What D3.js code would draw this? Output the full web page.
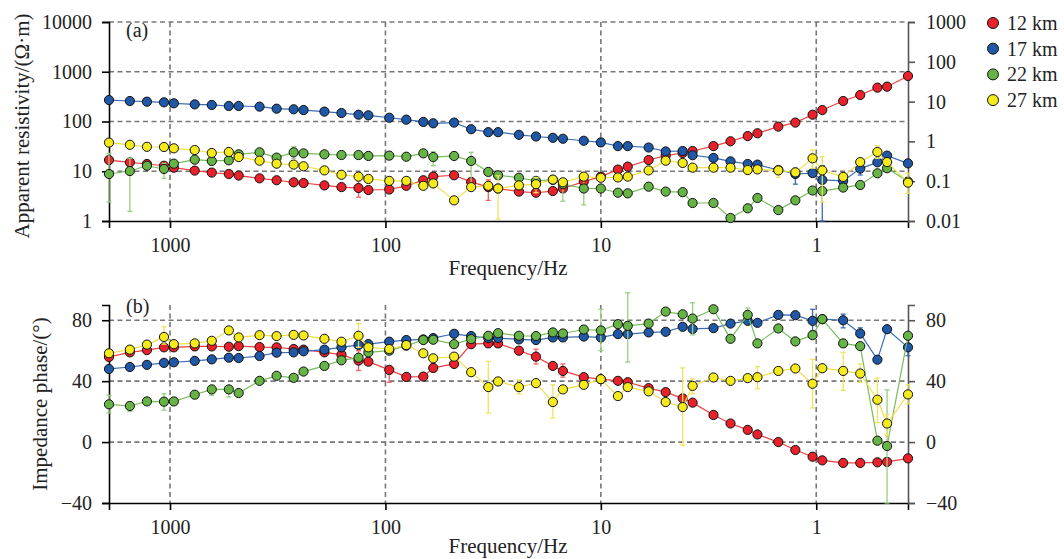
<!DOCTYPE html>
<html>
<head>
<meta charset="utf-8">
<script src="https://cdn.jsdelivr.net/npm/d3@7"></script>
<style>
  body { margin: 0; background: #fff; }
  svg { display: block; font-family: "Liberation Serif", "Times New Roman", serif; }
</style>
</head>
<body>
<svg id="chart"></svg>
<script>
// sounding frequencies (Hz), high to low
const freq = [1920, 1536, 1280, 1066.7, 960, 768, 640, 533.3, 480, 384, 320, 266.7, 240, 192, 160, 133.3,
  120, 96, 80, 66.7, 60, 48, 40, 33.3, 30, 24, 20, 16.7, 15, 12,
  10, 8.33, 7.5, 6, 5, 4.17, 3.75, 3, 2.5, 2.08,
  1.875, 1.5, 1.25, 1.04, 0.9375, 0.75, 0.625, 0.52, 0.469, 0.375];

const names = ["12 km", "17 km", "22 km", "27 km"];

// apparent resistivity (ohm·m)
const rho12 = [16.8, 15.1, 14, 12.9, 11.8, 10.3, 9.4, 8.8, 8.2, 7.2, 6.6, 6.0, 5.8, 5.2, 4.8, 4.6,
  4.2, 4.3, 5.1, 6.6, 7.8, 8.3, 6.1, 4.8, 4.5, 3.9, 3.7, 4.0, 4.5, 6.2,
  7.8, 10.8, 12.4, 16.8, 20.6, 23.3, 25.5, 32, 40, 51,
  58, 79, 95, 137, 170, 258, 341, 479, 501, 822];
const rho17 = [270, 258, 250, 243, 232, 221, 215, 205, 205, 199, 181, 176, 170, 158, 148, 137,
  133, 119, 109, 98, 92, 95, 70, 61, 61, 54, 50, 47, 45, 41,
  38, 32, 32, 30, 25, 25.5, 21, 18.5, 15.8, 14,
  13.6, 10.6, 8.8, 9.2, 6.7, 6.4, 11.3, 15.1, 20.6, 14.4];
const rho22 = [8.8, 10.1, 12.9, 11.1, 14.2, 17.1, 16.1, 16.6, 21.9, 24, 18.8, 24, 22.9, 21.9, 21.2, 21.2,
  20.3, 20.6, 19.6, 22.9, 19.3, 20.3, 16.1, 9.7, 8.3, 7.4, 6.4, 6.7, 5.5, 4.5,
  4.5, 3.7, 3.6, 4.9, 3.9, 3.8, 2.3, 2.3, 1.15, 1.8,
  2.9, 1.66, 2.6, 4.1, 4.0, 4.7, 5.3, 9.1, 11.5, 6.2];
const rho27 = [37.6, 34, 31, 30.7, 28.9, 26.7, 23.3, 24.4, 19.3, 16.3, 14.2, 13.6, 12.6, 10.4, 8.5, 7.8,
  7.0, 6.4, 6.4, 5.1, 5.7, 2.6, 4.8, 5.1, 4.5, 5.2, 5.5, 6.8, 6.0, 7.8,
  7.4, 7.5, 7.8, 10.4, 16.3, 14.7, 11.8, 11.8, 11.8, 10.6,
  10.9, 10.4, 9.5, 18.2, 10.4, 7.7, 15.3, 24.4, 15.3, 5.9];

// impedance phase (degrees)
const ph12 = [55.9, 58.9, 60.4, 62.2, 62.2, 62.8, 62.8, 62.6, 63, 62.4, 62.2, 61.1, 60.7, 58.9, 57.4, 53.5,
  52.8, 47.4, 42.8, 43, 48.7, 51.3, 64.3, 64.8, 64.8, 60, 56.1, 50, 46.7, 42.6,
  41.3, 40.2, 39.3, 35.4, 32.8, 28.7, 25.9, 17.8, 12.2, 8,
  5, 0, -5.2, -9.6, -12, -13.7, -13.7, -13.3, -13, -10.7];
const ph17 = [48, 49.3, 50.7, 52, 52.4, 53.3, 54.3, 55.4, 55.2, 56.5, 58.7, 58.9, 59.6, 60.7, 62.2, 63.8,
  64.3, 65.9, 67, 67.4, 68.3, 71.1, 69.6, 68.3, 68.3, 67.4, 67, 68.7, 68.7, 69.3,
  68.7, 70.9, 70.9, 72, 72.4, 75.7, 74.3, 74.8, 77.8, 79.6,
  78.3, 83.5, 83.3, 79.6, 80.7, 80, 71.3, 54.1, 74.1, 62.2];
const ph22 = [24.8, 23.7, 26.7, 26.5, 26.7, 31.1, 34.6, 34.6, 32.2, 40.2, 43.5, 42.2, 46.3, 50, 53.7, 55.4,
  58.9, 60, 63.3, 67, 67.2, 64.3, 67.6, 69.8, 71.5, 69.8, 69.6, 72, 71.3, 73.9,
  73.3, 77.4, 76.3, 77.8, 85.7, 83.9, 81.1, 87.2, 67.8, 83.5,
  64.8, 74.6, 66.1, 70.2, 80.7, 64.8, 63, 0.9, -2.6, 69.8];
const ph27 = [58.3, 60.7, 64, 69, 64.3, 64.8, 66.5, 73.3, 68.7, 70.2, 69.6, 70.4, 70, 67.8, 65.9, 69.8,
  62.2, 61.1, 63.7, 58.3, 55, 56.1, 45.9, 36.1, 39.8, 36.1, 38.7, 26.3, 34.6, 37.6,
  41.3, 30.2, 36.1, 33.3, 26.3, 23, 36.9, 42.4, 40.2, 42,
  42.6, 46.7, 48.3, 38.3, 48.5, 46.7, 45, 27.8, 12.2, 31.3];

// error bars: [frequency index, low, high]
const rhoErr12 = [[15, 3.0, 6.5], [23, 2.6, 6.7]];
const rhoErr17 = [[42, 5.5, 11.5], [44, 1, 13], [46, 8.4, 13.4]];
const rhoErr22 = [[0, 2.4, 22.9], [1, 1.56, 18.2], [3, 7.2, 14.4], [9, 20, 27], [11, 18.2, 31.2],
  [20, 12.9, 24.8], [22, 4.9, 24], [28, 2.5, 5.9], [29, 2.1, 9.1]];
const rhoErr27 = [[24, 1.1, 8.1], [26, 3.7, 7.5], [39, 8.5, 13], [41, 7.5, 12.5], [43, 11.5, 26.7],
  [44, 2.4, 19.6], [47, 18.2, 32.7], [49, 3.6, 9.1]];
const phErr12 = [[15, 47, 60], [17, 39.3, 48], [20, 46, 51], [24, 62.2, 66.5], [26, 51.3, 61], [28, 42.6, 51.3]];
const phErr17 = [[43, 73, 87.2], [45, 75, 84], [46, 68.7, 75], [49, 56.7, 63]];
const phErr22 = [[0, 19.1, 30.7], [1, 20.2, 26.3], [3, 20.9, 31.7], [6, 30.7, 36.5], [7, 29.6, 36.5],
  [30, 60, 87.2], [32, 52.6, 98], [36, 70.4, 91.5], [39, 82, 88], [48, -40, 34.3]];
const phErr27 = [[3, 64.3, 75.7], [15, 62.2, 77.8], [23, 19.1, 53], [25, 31.7, 40.9], [27, 15.9, 37.6],
  [35, -2, 48.7], [36, 31.7, 41.5], [40, 35, 49.6], [43, 22.4, 54.3], [45, 33.9, 58.9],
  [46, 39.3, 51.3], [47, 12.8, 42], [48, 4.6, 18], [49, 25.2, 37.6]];

const xTicks = [1000, 100, 10, 1];
const rhoTicks = [1, 10, 100, 1000, 10000];
const rho2Ticks = [0.01, 0.1, 1, 10, 100, 1000];
const phTicks = [-40, 0, 40, 80];

const fills = ["#e8212b", "#1f58a6", "#67b446", "#f4ea1e"];
const lineCols = ["#ee4040", "#3a6cb5", "#78bd5c", "#eee04a"];
const errCols = ["#f06262", "#3a6cb5", "#98cf80", "#eee45a"];

const width = 1064;
const height = 559;
const left = 109;
const right = 908;

const svg = d3.select("#chart").attr("width", width).attr("height", height);

const x = d3.scaleLog().domain([freq[0], freq[freq.length - 1]]).range([left, right]);
const yRho = d3.scaleLog().domain([1, 10000]).range([221, 22]);
const yRho2 = d3.scaleLog().domain([0.01, 1000]).range([221, 22]);
const yPh = d3.scaleLinear().domain([-40, 90]).range([503, 305]);

function grid(g, y, yVals, top, bottom) {
  g.selectAll("line.h").data(yVals).join("line").attr("class", "h")
    .attr("x1", left).attr("x2", right)
    .attr("y1", (d) => y(d)).attr("y2", (d) => y(d));
  g.selectAll("line.v").data(xTicks).join("line").attr("class", "v")
    .attr("x1", (d) => x(d)).attr("x2", (d) => x(d))
    .attr("y1", top).attr("y2", bottom);
  g.selectAll("line").attr("stroke", "#777").attr("stroke-width", 1.6).attr("stroke-dasharray", "5,3.5");
}

function styleAxis(g, col) {
  g.selectAll(".domain").attr("stroke", col).attr("stroke-width", 1.6);
  g.selectAll(".tick line").attr("stroke", col).attr("stroke-width", 1.6);
  g.selectAll("text").attr("font-size", 20).attr("fill", "#222").attr("font-family", "Liberation Serif, serif");
}

function axes(y, yTicks, yFmt, y2, y2Ticks, y2Fmt, base) {
  svg.append("g").attr("transform", `translate(0,${base})`)
    .call(d3.axisBottom(x).tickValues(xTicks).tickFormat(d3.format("d")).tickSizeOuter(0).tickSize(7).tickPadding(10))
    .call((g) => styleAxis(g, "#000"));
  svg.append("g").attr("transform", `translate(${left},0)`)
    .call(d3.axisLeft(y).tickValues(yTicks).tickFormat(yFmt).tickSizeOuter(0).tickSize(7).tickPadding(10))
    .call((g) => styleAxis(g, "#000"));
  svg.append("g").attr("transform", `translate(${right},0)`)
    .call(d3.axisRight(y2).tickValues(y2Ticks).tickFormat(y2Fmt).tickSizeOuter(0).tickSize(7).tickPadding(11))
    .call((g) => styleAxis(g, "#555"));
}

function series(y, vals, errs, k) {
  const g = svg.append("g");
  const pts = freq.map((f, i) => [f, vals[i]]);
  g.selectAll("g.err").data(errs).join("g").attr("class", "err").each(function (e) {
    const gx = x(freq[e[0]]);
    const s = d3.select(this).attr("stroke", errCols[k]).attr("stroke-width", 1.3);
    s.append("line").attr("x1", gx).attr("x2", gx).attr("y1", y(e[1])).attr("y2", y(e[2]));
    s.append("line").attr("x1", gx - 2.5).attr("x2", gx + 2.5).attr("y1", y(e[1])).attr("y2", y(e[1]));
    s.append("line").attr("x1", gx - 2.5).attr("x2", gx + 2.5).attr("y1", y(e[2])).attr("y2", y(e[2]));
  });
  g.append("path").datum(pts)
    .attr("fill", "none").attr("stroke", lineCols[k]).attr("stroke-width", 1.2)
    .attr("d", d3.line().x((d) => x(d[0])).y((d) => y(d[1])));
  g.selectAll("circle").data(pts).join("circle")
    .attr("cx", (d) => x(d[0])).attr("cy", (d) => y(d[1])).attr("r", 4.6)
    .attr("fill", fills[k]).attr("stroke", "#111").attr("stroke-width", 1);
}

// panel (a)
grid(svg.append("g"), yRho, [10, 100, 1000, 10000], 22, 221);
axes(yRho, rhoTicks, d3.format("d"), yRho2, rho2Ticks, (d) => (d < 1 ? String(d) : d3.format("d")(d)), 221);
[[rho12, rhoErr12], [rho17, rhoErr17], [rho22, rhoErr22], [rho27, rhoErr27]]
  .forEach((s, k) => series(yRho, s[0], s[1], k));

// panel (b)
grid(svg.append("g"), yPh, [0, 40, 80], 305, 503);
axes(yPh, phTicks, d3.format("d"), yPh, phTicks, d3.format("d"), 503);
[[ph12, phErr12], [ph17, phErr17], [ph22, phErr22], [ph27, phErr27]]
  .forEach((s, k) => series(yPh, s[0], s[1], k));

// labels
const txt = (t, xx, yy, size, rot) => {
  const e = svg.append("text").attr("font-size", size).attr("fill", "#222").text(t);
  if (rot) e.attr("transform", `translate(${xx},${yy}) rotate(-90)`).attr("text-anchor", "middle");
  else e.attr("x", xx).attr("y", yy);
  return e;
};
txt("(a)", 126, 37, 20);
txt("(b)", 126, 313, 20);
txt("Apparent resistivity/(Ω·m)", 29, 126, 21, true);
txt("Impedance phase/(°)", 47, 404, 21, true);
txt("Frequency/Hz", 508, 275, 21).attr("text-anchor", "middle");
txt("Frequency/Hz", 508, 553, 21).attr("text-anchor", "middle");

// legend
const leg = svg.append("g").attr("transform", "translate(993,23)");
leg.selectAll("g").data(names).join("g")
  .attr("transform", (d, i) => `translate(0,${i * 25.7})`)
  .each(function (d, i) {
    const g = d3.select(this);
    g.append("circle").attr("r", 5.5).attr("fill", fills[i]).attr("stroke", "#111").attr("stroke-width", 1);
    g.append("text").attr("x", 14).attr("y", 7).attr("font-size", 20).attr("fill", "#222").text(d);
  });
</script>
</body>
</html>
